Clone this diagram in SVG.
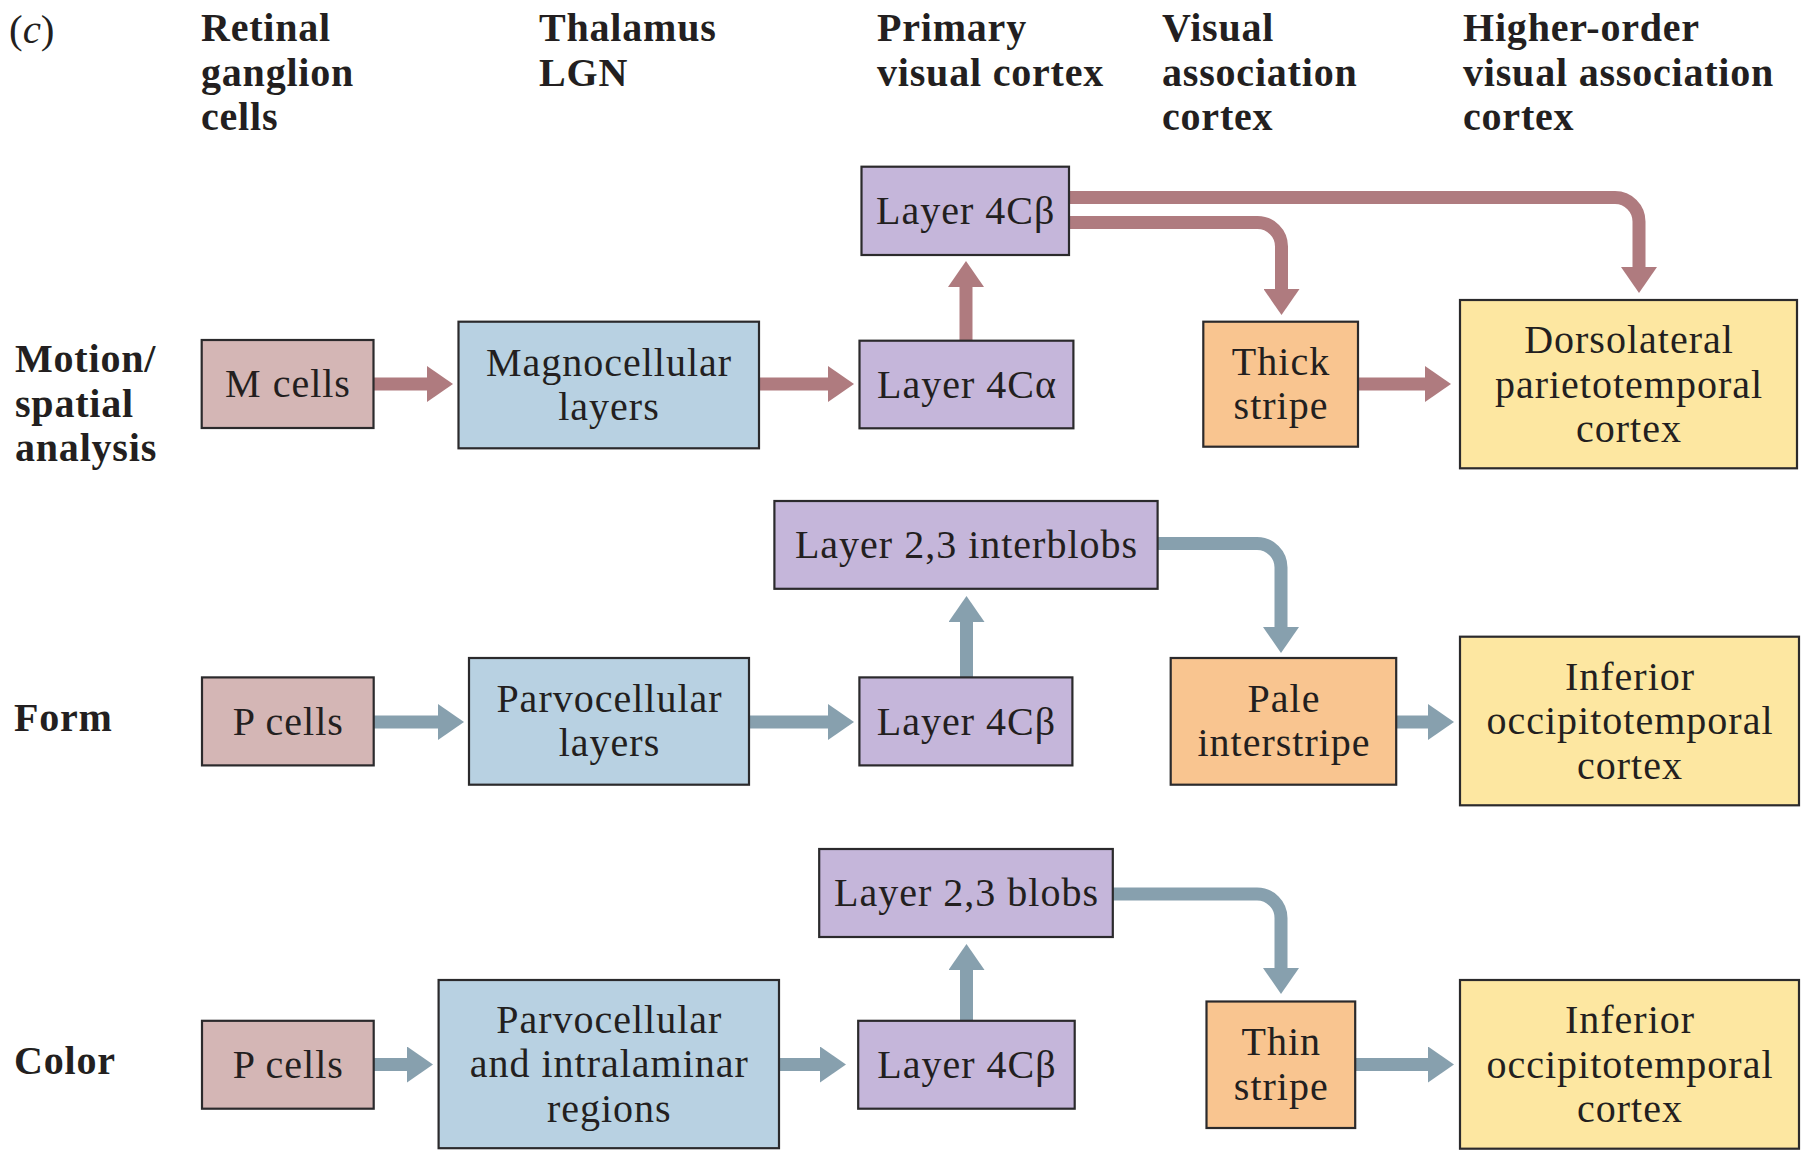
<svg xmlns="http://www.w3.org/2000/svg" width="1807" height="1153" viewBox="0 0 1807 1153">
<style>
  .hd{font-family:"Liberation Serif","Times New Roman",serif;font-weight:bold;font-size:40px;letter-spacing:0.8px;fill:#231F20}
  .nt{font-family:"Liberation Serif","Times New Roman",serif;font-size:40px;letter-spacing:1px;fill:#231F20;text-anchor:middle}
  .box{stroke:#2B2A2C;stroke-width:2.2}
  .cells{fill:#D4B6B5}
  .lgn{fill:#B8D1E2}
  .v1{fill:#C5B6DA}
  .stripe{fill:#F9C590}
  .cortex{fill:#FDE7A1}
  .red{stroke:#AF7B7F;stroke-width:13;fill:none}
  .blue{stroke:#87A0AE;stroke-width:13;fill:none}
</style>
<defs>
  <marker id="hr" markerUnits="userSpaceOnUse" markerWidth="27" markerHeight="36" refX="1" refY="18" orient="auto" viewBox="0 0 27 36">
    <path d="M0,0 L26,18 L0,36 Z" fill="#AF7B7F"/>
  </marker>
  <marker id="hb" markerUnits="userSpaceOnUse" markerWidth="27" markerHeight="36" refX="1" refY="18" orient="auto" viewBox="0 0 27 36">
    <path d="M0,0 L26,18 L0,36 Z" fill="#87A0AE"/>
  </marker>
</defs>
<rect width="1807" height="1153" fill="#FFFFFF"/>

<g id="headers">
  <text x="9" y="43" style="font-family:'Liberation Serif',serif;font-size:41px;fill:#231F20">(<tspan font-style="italic">c</tspan>)</text>
  <text class="hd" x="201" y="41">Retinal<tspan x="201" y="85.5">ganglion</tspan><tspan x="201" y="130">cells</tspan></text>
  <text class="hd" x="539" y="41">Thalamus<tspan x="539" y="85.5">LGN</tspan></text>
  <text class="hd" x="877" y="41">Primary<tspan x="877" y="85.5">visual cortex</tspan></text>
  <text class="hd" x="1162" y="41">Visual<tspan x="1162" y="85.5">association</tspan><tspan x="1162" y="130">cortex</tspan></text>
  <text class="hd" x="1463" y="41">Higher-order<tspan x="1463" y="85.5">visual association</tspan><tspan x="1463" y="130">cortex</tspan></text>
</g>

<g id="row-labels">
  <text class="hd" x="15" y="372">Motion/<tspan x="15" y="416.5">spatial</tspan><tspan x="15" y="461">analysis</tspan></text>
  <text class="hd" x="14" y="731">Form</text>
  <text class="hd" x="14" y="1074">Color</text>
</g>

<g id="connectors">
  <!-- Motion row -->
  <path class="red" d="M373.5,384 H428" marker-end="url(#hr)"/>
  <path class="red" d="M759,384 H829" marker-end="url(#hr)"/>
  <path class="red" d="M966,340.7 V286" marker-end="url(#hr)"/>
  <path class="red" d="M1069,197.5 H1615 A24,24 0 0 1 1639,221.5 V268" marker-end="url(#hr)"/>
  <path class="red" d="M1069,222.5 H1257.5 A24,24 0 0 1 1281.5,246.5 V290" marker-end="url(#hr)"/>
  <path class="red" d="M1358,384 H1426" marker-end="url(#hr)"/>
  <!-- Form row -->
  <path class="blue" d="M373.7,722 H439" marker-end="url(#hb)"/>
  <path class="blue" d="M749,722 H829" marker-end="url(#hb)"/>
  <path class="blue" d="M966.5,677.4 V621" marker-end="url(#hb)"/>
  <path class="blue" d="M1157.6,543.5 H1257 A24,24 0 0 1 1281,567.5 V628" marker-end="url(#hb)"/>
  <path class="blue" d="M1396.2,722 H1429" marker-end="url(#hb)"/>
  <!-- Color row -->
  <path class="blue" d="M373.7,1064.5 H408" marker-end="url(#hb)"/>
  <path class="blue" d="M779,1064.5 H821" marker-end="url(#hb)"/>
  <path class="blue" d="M966.5,1020.8 V969" marker-end="url(#hb)"/>
  <path class="blue" d="M1112.8,894 H1257 A24,24 0 0 1 1281,918 V969" marker-end="url(#hb)"/>
  <path class="blue" d="M1355.2,1064.5 H1429" marker-end="url(#hb)"/>
</g>

<g id="m-cells">
  <rect class="box cells" x="201.7" y="340" width="171.8" height="88"/>
  <text class="nt" x="288" y="397">M cells</text>
</g>
<g id="magnocellular">
  <rect class="box lgn" x="458.5" y="321.7" width="300.5" height="126.6"/>
  <text class="nt" x="609" y="375.5">Magnocellular<tspan x="609" y="420">layers</tspan></text>
</g>
<g id="layer4ca">
  <rect class="box v1" x="859.5" y="340.7" width="213.9" height="87.6"/>
  <text class="nt" x="967" y="397.5">Layer 4Cα</text>
</g>
<g id="layer4cb-motion">
  <rect class="box v1" x="861.5" y="166.7" width="207.5" height="88.3"/>
  <text class="nt" x="965.7" y="224">Layer 4Cβ</text>
</g>
<g id="thick-stripe">
  <rect class="box stripe" x="1203.3" y="321.7" width="154.7" height="125"/>
  <text class="nt" x="1281" y="374.7">Thick<tspan x="1281" y="419.2">stripe</tspan></text>
</g>
<g id="dorsolateral">
  <rect class="box cortex" x="1460" y="300" width="337" height="168.3"/>
  <text class="nt" x="1629" y="353">Dorsolateral<tspan x="1629" y="397.5">parietotemporal</tspan><tspan x="1629" y="442">cortex</tspan></text>
</g>

<g id="p-cells-form">
  <rect class="box cells" x="202" y="677.4" width="171.7" height="88"/>
  <text class="nt" x="288.3" y="734.6">P cells</text>
</g>
<g id="parvocellular">
  <rect class="box lgn" x="469" y="658" width="280" height="126.7"/>
  <text class="nt" x="609.5" y="711.8">Parvocellular<tspan x="609.5" y="756.3">layers</tspan></text>
</g>
<g id="layer4cb-form">
  <rect class="box v1" x="859.4" y="677.4" width="213" height="88"/>
  <text class="nt" x="966.5" y="734.6">Layer 4Cβ</text>
</g>
<g id="interblobs">
  <rect class="box v1" x="774.4" y="501" width="383.2" height="87.8"/>
  <text class="nt" x="966.5" y="558">Layer 2,3 interblobs</text>
</g>
<g id="pale-interstripe">
  <rect class="box stripe" x="1170.7" y="658" width="225.5" height="126.7"/>
  <text class="nt" x="1284" y="711.8">Pale<tspan x="1284" y="756.3">interstripe</tspan></text>
</g>
<g id="inferior-form">
  <rect class="box cortex" x="1460" y="636.7" width="339" height="168.6"/>
  <text class="nt" x="1630" y="689.7">Inferior<tspan x="1630" y="734.2">occipitotemporal</tspan><tspan x="1630" y="778.7">cortex</tspan></text>
</g>

<g id="p-cells-color">
  <rect class="box cells" x="202" y="1020.8" width="171.7" height="87.9"/>
  <text class="nt" x="288.3" y="1078">P cells</text>
</g>
<g id="parvo-intralaminar">
  <rect class="box lgn" x="438.6" y="980" width="340.4" height="168.2"/>
  <text class="nt" x="609.3" y="1032.8">Parvocellular<tspan x="609.3" y="1077.3">and intralaminar</tspan><tspan x="609.3" y="1121.8">regions</tspan></text>
</g>
<g id="layer4cb-color">
  <rect class="box v1" x="858.2" y="1020.8" width="216.5" height="87.9"/>
  <text class="nt" x="967" y="1078">Layer 4Cβ</text>
</g>
<g id="blobs">
  <rect class="box v1" x="819.2" y="849" width="293.6" height="88"/>
  <text class="nt" x="966.5" y="906.2">Layer 2,3 blobs</text>
</g>
<g id="thin-stripe">
  <rect class="box stripe" x="1206.5" y="1001.5" width="148.7" height="126.5"/>
  <text class="nt" x="1281.3" y="1055.2">Thin<tspan x="1281.3" y="1099.7">stripe</tspan></text>
</g>
<g id="inferior-color">
  <rect class="box cortex" x="1460" y="980" width="339" height="168.7"/>
  <text class="nt" x="1630" y="1033">Inferior<tspan x="1630" y="1077.5">occipitotemporal</tspan><tspan x="1630" y="1122">cortex</tspan></text>
</g>
</svg>
